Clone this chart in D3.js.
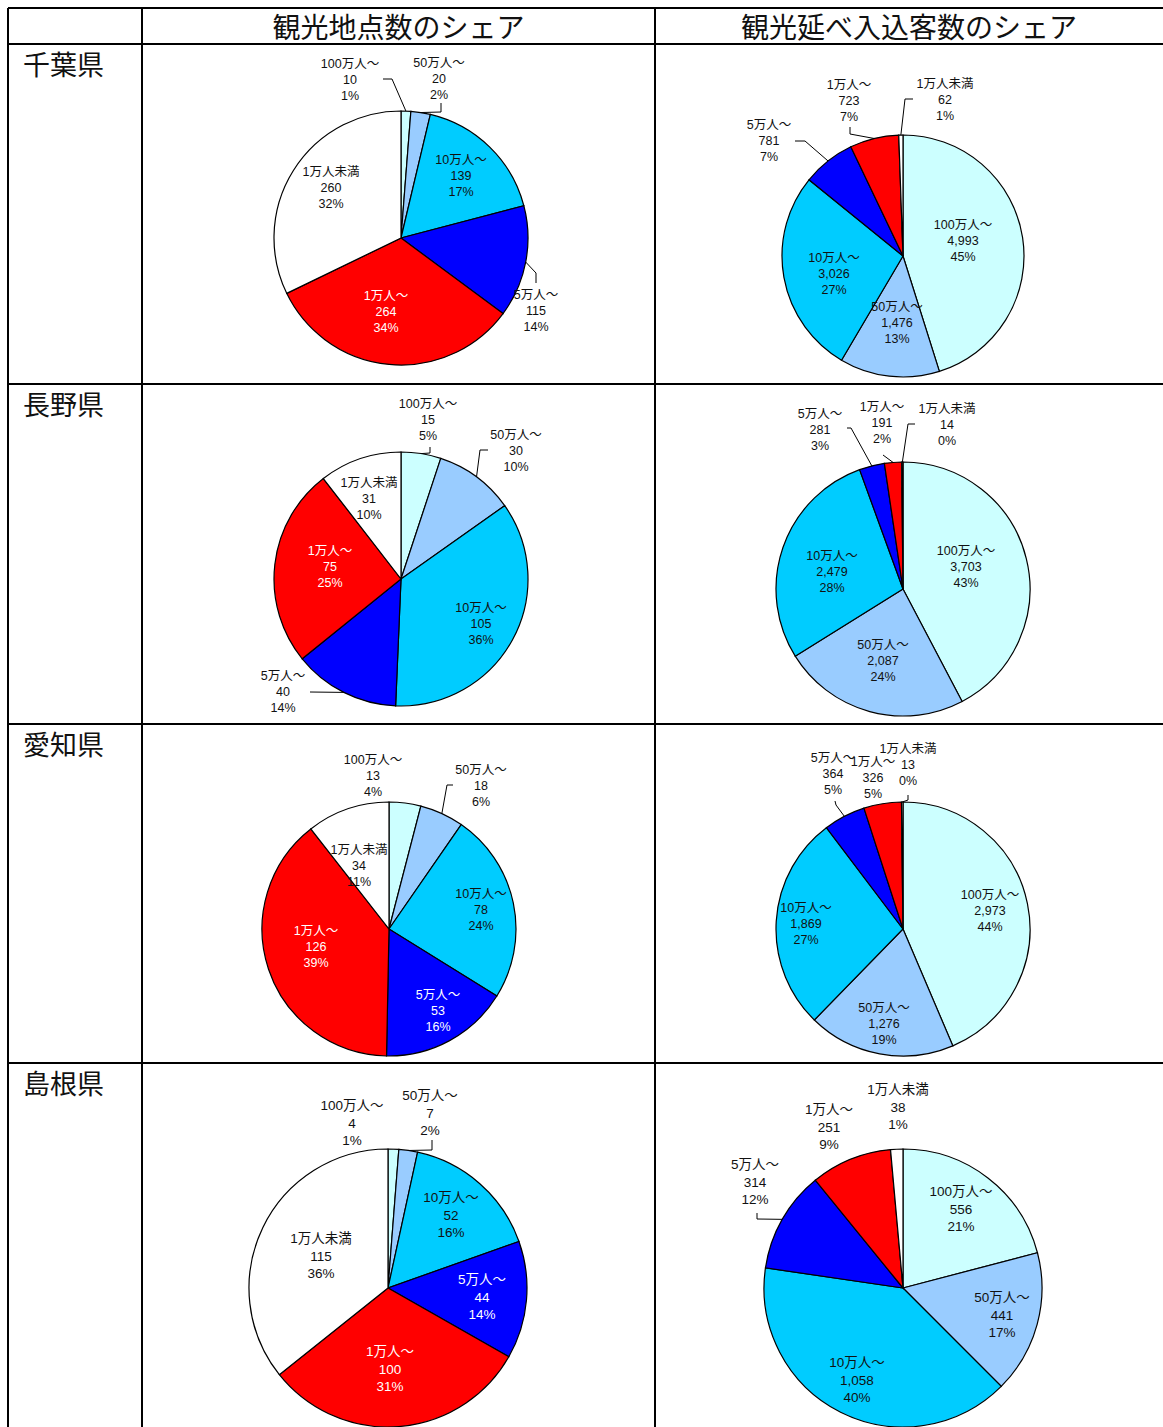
<!DOCTYPE html>
<html>
<head>
<meta charset="UTF-8">
<script src="https://cdnjs.cloudflare.com/ajax/libs/d3/7.8.5/d3.min.js"></script>
<style>
  body { margin: 0; background: #fff; }
  svg { display: block; }
  .head { font-family: 'Noto Sans CJK JP', sans-serif; font-size: 28px; fill: #111; }
  .pref { font-family: 'Noto Sans CJK JP', sans-serif; font-size: 27px; fill: #111; }
  .lbl { font-family: 'Liberation Sans', 'Noto Sans CJK JP', sans-serif; }
</style>
</head>
<body>
<svg id="chart"></svg>
<script>
  // data
  const categories = ['100万人～', '50万人～', '10万人～', '5万人～', '1万人～', '1万人未満']
  const colors = ['#ccffff', '#99ccff', '#00ccff', '#0000ff', '#ff0000', '#ffffff']
  const prefectures = ['千葉県', '長野県', '愛知県', '島根県']
  const headers = ['観光地点数のシェア', '観光延べ入込客数のシェア']

  const chibaPoints = [10, 20, 139, 115, 264, 260]
  const chibaPointsPct = ['1%', '2%', '17%', '14%', '34%', '32%']
  const chibaVisitors = [4993, 1476, 3026, 781, 723, 62]
  const chibaVisitorsPct = ['45%', '13%', '27%', '7%', '7%', '1%']

  const naganoPoints = [15, 30, 105, 40, 75, 31]
  const naganoPointsPct = ['5%', '10%', '36%', '14%', '25%', '10%']
  const naganoVisitors = [3703, 2087, 2479, 281, 191, 14]
  const naganoVisitorsPct = ['43%', '24%', '28%', '3%', '2%', '0%']

  const aichiPoints = [13, 18, 78, 53, 126, 34]
  const aichiPointsPct = ['4%', '6%', '24%', '16%', '39%', '11%']
  const aichiVisitors = [2973, 1276, 1869, 364, 326, 13]
  const aichiVisitorsPct = ['44%', '19%', '27%', '5%', '5%', '0%']

  const shimanePoints = [4, 7, 52, 44, 100, 115]
  const shimanePointsPct = ['1%', '2%', '16%', '14%', '31%', '36%']
  const shimaneVisitors = [556, 441, 1058, 314, 251, 38]
  const shimaneVisitorsPct = ['21%', '17%', '40%', '12%', '9%', '1%']

  // layout of each pie: centre, radius, label spots and leader elbows
  const pies = [
    { values: chibaPoints, pct: chibaPointsPct, cx: 401, cy: 238, r: 127, fs: 12.5, lh: 16,
      labels: [[350, 80], [439, 79], [461, 176], [536, 311], [386, 312], [331, 188]],
      leaders: { 0: [[383, 79], [392, 79]], 1: [[441, 103], [441, 112]], 3: [[536, 283], [536, 273]] } },
    { values: chibaVisitors, pct: chibaVisitorsPct, cx: 903, cy: 256, r: 121, fs: 12.5, lh: 16,
      labels: [[963, 241], [897, 323], [834, 274], [769, 141], [849, 101], [945, 100]],
      leaders: { 3: [[795, 141], [805, 141]], 4: [[850, 127], [850, 134]], 5: [[913, 99], [905, 99]] } },
    { values: naganoPoints, pct: naganoPointsPct, cx: 401, cy: 579, r: 127, fs: 12.5, lh: 16,
      labels: [[428, 420], [516, 451], [481, 624], [283, 692], [330, 567], [369, 499]],
      leaders: { 0: [[430, 447], [430, 453]], 1: [[488, 450], [480, 450]], 3: [[310, 692]] } },
    { values: naganoVisitors, pct: naganoVisitorsPct, cx: 903, cy: 589, r: 127, fs: 12.5, lh: 16,
      labels: [[966, 567], [883, 661], [832, 572], [820, 430], [882, 423], [947, 425]],
      leaders: { 3: [[847, 428], [851, 428]], 4: [[883, 455]], 5: [[915, 424], [908, 424]] } },
    { values: aichiPoints, pct: aichiPointsPct, cx: 389, cy: 929, r: 127, fs: 12.5, lh: 16,
      labels: [[373, 776], [481, 786], [481, 910], [438, 1011], [316, 947], [359, 866]],
      leaders: { 1: [[453, 785], [447, 785]] } },
    { values: aichiVisitors, pct: aichiVisitorsPct, cx: 903, cy: 929, r: 127, fs: 12.5, lh: 16,
      labels: [[990, 911], [884, 1024], [806, 924], [833, 774], [873, 778], [908, 765]],
      leaders: { 3: [[835, 801], [836, 805]], 5: [[908, 795], [908, 800]] } },
    { values: shimanePoints, pct: shimanePointsPct, cx: 388, cy: 1288, r: 139, fs: 13.5, lh: 17.5,
      labels: [[352, 1123], [430, 1113], [451, 1215], [482, 1297], [390, 1369], [321, 1256]],
      leaders: { 1: [[432, 1140], [432, 1150]] } },
    { values: shimaneVisitors, pct: shimaneVisitorsPct, cx: 903, cy: 1288, r: 139, fs: 13.5, lh: 17.5,
      labels: [[961, 1209], [1002, 1315], [857, 1380], [755, 1182], [829, 1127], [898, 1107]],
      leaders: { 3: [[757, 1213], [757, 1219]] } }
  ]

  const width = 1163
  const height = 1427
  const colX = [8, 142, 655, width]
  const rowY = [8, 44, 384, 724, 1063, height]

  const svg = d3.select('#chart')
    .attr('width', width)
    .attr('height', height)

  // table grid
  const grid = svg.append('g')
    .attr('stroke', '#000')
    .attr('stroke-width', 2)
  rowY.slice(0, 5).forEach(y => {
    grid.append('line').attr('x1', colX[0]).attr('x2', width).attr('y1', y).attr('y2', y)
  })
  colX.slice(0, 3).forEach(x => {
    grid.append('line').attr('x1', x).attr('x2', x).attr('y1', rowY[0]).attr('y2', height)
  })

  headers.forEach((h, i) => {
    svg.append('text')
      .attr('class', 'head')
      .attr('x', (colX[i + 1] + colX[i + 2]) / 2)
      .attr('y', 26)
      .attr('text-anchor', 'middle')
      .attr('dominant-baseline', 'central')
      .text(h)
  })

  prefectures.forEach((p, i) => {
    svg.append('text')
      .attr('class', 'pref')
      .attr('x', 23)
      .attr('y', rowY[i + 1] + 19)
      .attr('dominant-baseline', 'central')
      .text(p)
  })

  const pie = d3.pie().sort(null).value(d => d)
  const fmt = d3.format(',')

  pies.forEach(cfg => {
    const arcs = pie(cfg.values)
    const arc = d3.arc().innerRadius(0).outerRadius(cfg.r)
    const g = svg.append('g').attr('transform', `translate(${cfg.cx},${cfg.cy})`)

    g.selectAll('path')
      .data(arcs)
      .join('path')
      .attr('d', arc)
      .attr('fill', (d, i) => colors[i])
      .attr('stroke', '#000')
      .attr('stroke-width', 1.2)

    // leader lines: elbow points then the arc edge at mid angle
    Object.entries(cfg.leaders).forEach(([k, pts]) => {
      const a = arcs[+k]
      const mid = (a.startAngle + a.endAngle) / 2
      const end = [cfg.cx + cfg.r * Math.sin(mid), cfg.cy - cfg.r * Math.cos(mid)]
      svg.append('path')
        .attr('d', d3.line()(pts.concat([end])))
        .attr('fill', 'none')
        .attr('stroke', '#000')
        .attr('stroke-width', 1)
    })

    arcs.forEach((a, i) => {
      const [x, y] = cfg.labels[i]
      const inside = Math.hypot(x - cfg.cx, y - cfg.cy) < cfg.r
      const light = inside && (i === 3 || i === 4)
      const t = svg.append('text')
        .attr('class', 'lbl')
        .attr('text-anchor', 'middle')
        .attr('font-size', cfg.fs)
        .attr('fill', light ? '#fff' : '#111')
      const lines = [categories[i], fmt(cfg.values[i]), cfg.pct[i]]
      lines.forEach((s, j) => {
        t.append('tspan')
          .attr('x', x)
          .attr('y', y + (j - 1) * cfg.lh)
          .attr('dominant-baseline', 'central')
          .text(s)
      })
    })
  })
</script>
</body>
</html>
